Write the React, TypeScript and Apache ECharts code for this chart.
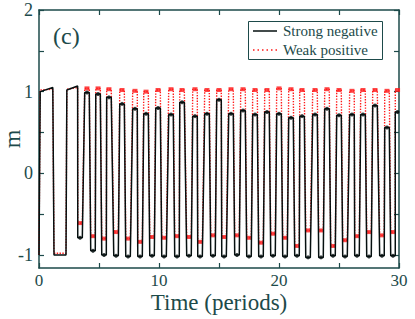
import React, { useEffect, useRef } from "react";
import * as echarts from "echarts";

// Early segment (start-up), both series
const earlyTimes = [0, 0.1, 1.15, 1.25, 2.25, 2.32, 3.22];
const earlyBlack = [-1.0, 1.0, 1.05, -1.0, -1.0, 1.02, 1.07];
const earlyRed = [-1.0, 1.02, 1.03, -0.98, -0.98, 1.03, 1.05];

// Regular oscillation: trough then peak in every period
const troughTimes = [3.42, 4.5, 5.42, 6.42, 7.42, 8.42, 9.42, 10.42, 11.5, 12.5, 13.42, 14.5, 15.42, 16.5, 17.5, 18.5, 19.5, 20.5, 21.5, 22.42, 23.5, 24.5, 25.5, 26.5, 27.5, 28.58, 29.5];
const peakTimes = [4.0, 4.92, 5.83, 6.92, 8.0, 8.92, 9.92, 11.0, 11.92, 13.0, 14.0, 15.0, 16.0, 17.0, 18.0, 19.0, 20.0, 21.0, 21.92, 23.0, 24.0, 25.0, 26.08, 27.0, 28.0, 29.0, 29.88];

const blackTroughs = [-0.79, -0.95, -1.0, -1.01, -1.02, -1.02, -1.01, -1.02, -1.02, -1.01, -1.02, -1.01, -1.02, -1.0, -1.02, -1.02, -1.01, -1.02, -1.01, -1.03, -1.03, -1.01, -1.02, -1.01, -1.02, -1.01, -1.01];
const blackPeaks = [0.99, 0.97, 0.93, 0.85, 0.79, 0.73, 0.8, 0.72, 0.87, 0.7, 0.73, 0.9, 0.73, 0.77, 0.72, 0.75, 0.73, 0.68, 0.7, 0.72, 0.79, 0.71, 0.72, 0.72, 0.83, 0.56, 0.75];

const redTroughs = [-0.61, -0.77, -0.8, -0.72, -0.8, -0.84, -0.78, -0.79, -0.77, -0.78, -0.84, -0.76, -0.78, -0.76, -0.79, -0.85, -0.74, -0.79, -0.89, -0.7, -0.7, -0.89, -0.82, -0.77, -0.72, -0.76, -0.72];
const redPeaks = [1.04, 1.04, 1.03, 1.02, 1.01, 1.0, 1.02, 1.03, 1.02, 1.03, 1.02, 1.02, 1.03, 1.03, 1.02, 1.02, 1.04, 1.03, 1.02, 1.02, 1.03, 1.02, 1.01, 1.02, 1.02, 1.01, 1.02];

const xTicks = [0, 10, 20, 30];
const yTicks = [-1, 0, 1, 2];
const yMinorTicks = [-1, -0.5, 0, 0.5, 1, 1.5, 2];
const legendNames = ["Strong negative", "Weak positive"];

const HALF = 0.19;

function buildLine(early: number[], troughs: number[], peaks: number[]) {
  const pts: number[][] = [];
  early.forEach((v, i) => pts.push([earlyTimes[i], v]));
  const plateau = (t: number, v: number) => {
    pts.push([t - HALF, v]);
    pts.push([Math.min(t + HALF, 30), v]);
  };
  troughs.forEach((b, i) => {
    plateau(troughTimes[i], b);
    plateau(peakTimes[i], peaks[i]);
  });
  return pts;
}

function buildDots(troughs: number[], peaks: number[]) {
  const pts: number[][] = [];
  troughs.forEach((b, i) => {
    pts.push([troughTimes[i], b]);
    pts.push([peakTimes[i], peaks[i]]);
  });
  return pts;
}

const TXT = "#1d4a4a";
const FONT = "'Liberation Serif', 'Times New Roman', serif";
const RED = "#ff1a1a";
const BLK = "#050f0f";

export default function App() {
  const ref = useRef<HTMLDivElement>(null);
  useEffect(() => {
    if (!ref.current) return;
    const chart = echarts.init(ref.current, undefined, { renderer: "svg" });
    const axisCommon = {
      axisLine: { show: true, onZero: false, lineStyle: { color: TXT, width: 1.5 } },
      axisTick: { show: true, inside: true, length: 5, lineStyle: { color: TXT, width: 1.2 } },
      splitLine: { show: false },
    };
    chart.setOption({
      animation: false,
      grid: { left: 39, right: 16, top: 10, bottom: 51, containLabel: false, outerBoundsMode: "none" },
      graphic: [
        {
          type: "text",
          left: 53,
          top: 24,
          style: { text: "(c)", fontFamily: FONT, fontSize: 24, fill: TXT },
        },
        {
          type: "rect",
          shape: { x: 248.5, y: 21.5, width: 134, height: 38 },
          style: { fill: "#fff", stroke: TXT, lineWidth: 1 },
          z: 10,
        },
        {
          type: "line",
          shape: { x1: 253, y1: 31, x2: 277, y2: 31 },
          style: { stroke: BLK, lineWidth: 1.5 },
          z: 11,
        },
        {
          type: "line",
          shape: { x1: 253, y1: 50, x2: 277, y2: 50 },
          style: { stroke: RED, lineWidth: 1.4, lineDash: [1.5, 3] },
          z: 11,
        },
        {
          type: "text",
          x: 283,
          y: 31,
          style: { text: legendNames[0], fontFamily: FONT, fontSize: 15, fill: TXT, verticalAlign: "middle" },
          z: 11,
        },
        {
          type: "text",
          x: 283,
          y: 50,
          style: { text: legendNames[1], fontFamily: FONT, fontSize: 15, fill: TXT, verticalAlign: "middle" },
          z: 11,
        },
      ],
      xAxis: [
        {
          ...axisCommon,
          type: "value",
          min: 0,
          max: 30,
          interval: 5,
          position: "bottom",
          name: "Time (periods)",
          nameLocation: "middle",
          nameGap: 23,
          nameMoveOverlap: false,
          nameTextStyle: { fontFamily: FONT, fontSize: 23, lineHeight: 22, color: TXT },
          axisLabel: { customValues: xTicks, margin: 5, fontFamily: FONT, fontSize: 17, lineHeight: 15, color: TXT },
        },
        {
          ...axisCommon,
          type: "value",
          min: 0,
          max: 30,
          interval: 5,
          position: "top",
          axisLabel: { show: false },
        },
      ],
      yAxis: [
        {
          ...axisCommon,
          type: "value",
          min: -1.16,
          max: 2,
          position: "left",
          name: "m",
          nameLocation: "middle",
          nameGap: 17,
          nameMoveOverlap: false,
          nameTextStyle: { fontFamily: FONT, fontSize: 24, lineHeight: 20, color: TXT },
          axisTick: { ...axisCommon.axisTick, customValues: yMinorTicks },
          axisLabel: { customValues: yTicks, margin: 6, fontFamily: FONT, fontSize: 18, color: TXT },
        },
        {
          ...axisCommon,
          type: "value",
          min: -1.16,
          max: 2,
          position: "right",
          axisTick: { ...axisCommon.axisTick, customValues: yMinorTicks },
          axisLabel: { show: false },
        },
      ],
      series: [
        {
          name: legendNames[1],
          type: "line",
          data: buildLine(earlyRed, redTroughs, redPeaks),
          symbol: "none",
          itemStyle: { color: RED },
          lineStyle: { color: RED, width: 1.4, type: "dotted" },
          z: 2,
        },
        {
          name: "red-dots",
          type: "scatter",
          data: buildDots(redTroughs, redPeaks),
          symbol: "rect",
          symbolSize: [5, 4],
          itemStyle: { color: RED },
          z: 2,
        },
        {
          name: legendNames[0],
          type: "line",
          data: buildLine(earlyBlack, blackTroughs, blackPeaks),
          symbol: "none",
          itemStyle: { color: BLK },
          lineStyle: { color: BLK, width: 1.5 },
          z: 3,
        },
        {
          name: "black-dots",
          type: "scatter",
          data: buildDots(blackTroughs, blackPeaks),
          symbol: "circle",
          symbolSize: 4,
          itemStyle: { color: BLK },
          z: 3,
        },
      ],
    });
    return () => chart.dispose();
  }, []);
  return <div ref={ref} style={{ width: 415, height: 319, position: "absolute", left: 0, top: 0 }} />;
}
